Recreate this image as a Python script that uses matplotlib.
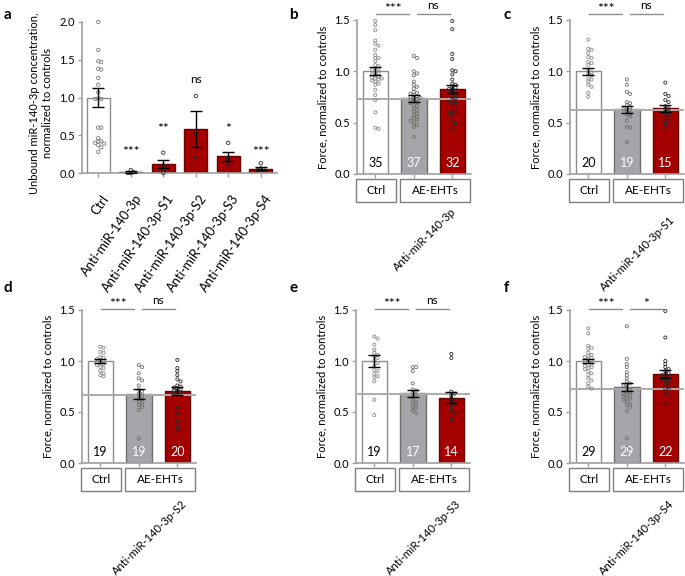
import numpy as np
import matplotlib
matplotlib.use("Agg")
import matplotlib.pyplot as plt
import matplotlib.transforms as mtransforms
from matplotlib.patches import Rectangle

plt.rcParams['font.family'] = ['Lato', 'DejaVu Sans']

W, H = 685, 576
RED = '#a50000'
GREY = '#a5a5a9'
SPINE = '#a0a0a0'
LINE = '#ababab'

# ---- panel a: unbound miR-140-3p
a_labels = ['Ctrl', 'Anti-miR-140-3p', 'Anti-miR-140-3p-S1', 'Anti-miR-140-3p-S2',
            'Anti-miR-140-3p-S3', 'Anti-miR-140-3p-S4']
a_means = [1.0, 0.015, 0.12, 0.58, 0.22, 0.055]
a_sem = [0.125, 0.01, 0.055, 0.235, 0.06, 0.02]
a_sig = ['', '***', '**', 'ns', '*', '***']
a_sig_y = [0, 0.27, 0.57, 1.24, 0.57, 0.27]
a_points = [
    [2.0, 1.63, 1.48, 1.47, 1.38, 1.37, 1.26, 1.17, 1.07, 0.99, 0.98, 0.98,
     0.60, 0.60, 0.46, 0.42, 0.42, 0.40, 0.39, 0.37, 0.34, 0.28],
    [0.04, 0.01, 0.0, 0.0],
    [0.27, 0.10, 0.08, 0.05, 0.0],
    [1.02, 0.52, 0.20],
    [0.40, 0.20, 0.15, 0.11],
    [0.13, 0.06, 0.05, 0.04],
]

# ---- force panels b-f (Ctrl, AE-EHTs, AE-EHTs + anti-miR)
b_means, b_sem, b_n, b_line = [1.0, 0.737, 0.83], [0.04, 0.033, 0.04], [35, 37, 32], 0.73
b_sig = ['***', 'ns']
b_ctrl = [1.49, 1.45, 1.40, 1.30, 1.27, 1.25, 1.21, 1.16, 1.13, 1.13, 1.10, 1.06, 1.05, 1.03,
          1.02, 1.01, 0.99, 0.98, 0.97, 0.96, 0.95, 0.94, 0.93, 0.93, 0.92, 0.91, 0.90, 0.88,
          0.87, 0.82, 0.77, 0.72, 0.60, 0.45, 0.44]
b_ae = [1.15, 1.13, 1.00, 0.98, 0.96, 0.90, 0.87, 0.85, 0.83, 0.80, 0.79, 0.78, 0.77, 0.76,
        0.75, 0.74, 0.74, 0.73, 0.72, 0.71, 0.70, 0.69, 0.67, 0.66, 0.64, 0.62, 0.61, 0.59,
        0.57, 0.56, 0.54, 0.53, 0.52, 0.50, 0.48, 0.46, 0.36]
b_anti = [1.49, 1.41, 1.17, 1.12, 1.01, 1.00, 0.97, 0.92, 0.88, 0.87, 0.85, 0.84, 0.83, 0.82,
          0.81, 0.80, 0.79, 0.77, 0.75, 0.74, 0.72, 0.71, 0.70, 0.68, 0.66, 0.61, 0.60, 0.59,
          0.57, 0.51, 0.49, 0.44]

c_means, c_sem, c_n, c_line = [1.0, 0.63, 0.64], [0.035, 0.035, 0.035], [20, 19, 15], 0.623
c_sig = ['***', 'ns']
c_ctrl = [1.31, 1.22, 1.21, 1.18, 1.14, 1.13, 1.09, 1.08, 1.06, 1.01, 0.99, 0.98, 0.96, 0.93,
          0.92, 0.90, 0.87, 0.85, 0.79, 0.75]
c_ae = [0.92, 0.87, 0.80, 0.78, 0.70, 0.69, 0.67, 0.65, 0.64, 0.63, 0.62, 0.61, 0.59, 0.58,
        0.56, 0.52, 0.46, 0.45, 0.31]
c_anti = [0.89, 0.78, 0.76, 0.72, 0.70, 0.66, 0.64, 0.63, 0.61, 0.59, 0.57, 0.54, 0.52, 0.49, 0.46]

d_means, d_sem, d_n, d_line = [1.0, 0.673, 0.706], [0.02, 0.05, 0.04], [19, 19, 20], 0.667
d_sig = ['***', 'ns']
d_ctrl = [1.14, 1.13, 1.09, 1.08, 1.04, 1.03, 1.02, 1.01, 1.00, 0.99, 0.98, 0.97, 0.96, 0.94,
          0.93, 0.90, 0.88, 0.86, 0.85]
d_ae = [0.96, 0.94, 0.88, 0.83, 0.81, 0.76, 0.72, 0.70, 0.68, 0.66, 0.63, 0.62, 0.60, 0.58,
        0.57, 0.55, 0.52, 0.24, 0.15]
d_anti = [1.01, 0.93, 0.90, 0.86, 0.82, 0.80, 0.76, 0.75, 0.74, 0.73, 0.72, 0.71, 0.70, 0.69,
          0.68, 0.54, 0.49, 0.41, 0.35, 0.32]

e_means, e_sem, e_n, e_line = [1.0, 0.683, 0.64], [0.055, 0.033, 0.053], [19, 17, 14], 0.673
e_sig = ['***', 'ns']
e_ctrl = [1.24, 1.22, 1.16, 1.11, 1.08, 1.06, 1.04, 1.03, 1.00, 0.98, 0.95, 0.91, 0.90, 0.87,
          0.85, 0.84, 0.80, 0.62, 0.47]
e_ae = [0.94, 0.94, 0.90, 0.78, 0.72, 0.71, 0.69, 0.67, 0.65, 0.62, 0.60, 0.58, 0.57, 0.55,
        0.54, 0.51, 0.49]
e_anti = [1.07, 1.03, 0.70, 0.68, 0.66, 0.63, 0.62, 0.60, 0.58, 0.57, 0.54, 0.50, 0.49, 0.43]

f_means, f_sem, f_n, f_line = [1.0, 0.748, 0.873], [0.02, 0.04, 0.04], [29, 29, 22], 0.725
f_sig = ['***', '*']
f_ctrl = [1.32, 1.27, 1.15, 1.13, 1.12, 1.08, 1.06, 1.05, 1.04, 1.03, 1.02, 1.01, 1.00, 0.99,
          0.98, 0.97, 0.96, 0.95, 0.94, 0.93, 0.92, 0.90, 0.88, 0.86, 0.83, 0.81, 0.78, 0.75, 0.73]
f_ae = [1.34, 1.02, 0.97, 0.94, 0.89, 0.86, 0.83, 0.80, 0.78, 0.77, 0.76, 0.74, 0.72, 0.70,
        0.69, 0.68, 0.67, 0.66, 0.65, 0.64, 0.63, 0.62, 0.60, 0.58, 0.57, 0.55, 0.51, 0.24, 0.15]
f_anti = [1.49, 1.23, 1.00, 0.97, 0.94, 0.92, 0.90, 0.88, 0.87, 0.86, 0.85, 0.83, 0.82, 0.80,
          0.79, 0.77, 0.75, 0.73, 0.72, 0.69, 0.67, 0.59]


def rect(l, t, r, b):
    return [l / W, 1 - b / H, (r - l) / W, (b - t) / H]


def swarm(vals, step, thresh):
    # simple beeswarm: push points sideways when values are close
    vals = np.asarray(vals, float)
    offs = np.zeros(len(vals))
    placed = []
    cands = [0]
    for k in range(1, 8):
        cands += [k * step, -k * step]
    for i in np.argsort(vals)[::-1]:
        for c in cands:
            ok = True
            for py, px in placed:
                if abs(vals[i] - py) < thresh and abs(c - px) < step * 0.95:
                    ok = False
                    break
            if ok:
                offs[i] = c
                placed.append((vals[i], c))
                break
    return offs


def style_axes(ax):
    for s in ['top', 'right']:
        ax.spines[s].set_visible(False)
    for s in ['left', 'bottom']:
        ax.spines[s].set_color(SPINE)
        ax.spines[s].set_linewidth(1.2)
    ax.tick_params(axis='both', colors=SPINE, labelcolor='black', labelsize=8,
                   length=3, width=1, pad=2)


def sig_text(ax, x, y, s, size=8.5):
    # asterisks sit high in the line box, so put their baseline lower than for "ns"
    if '*' in s:
        ax.text(x, y, s, ha='center', va='baseline', fontsize=size + 1.5, clip_on=False)
    else:
        ax.text(x, y + 0.04, s, ha='center', va='baseline', fontsize=size, clip_on=False)


fig = plt.figure(figsize=(W / 100, H / 100), dpi=100)

# ---------------- panel a
ax = fig.add_axes(rect(82, 22, 277, 173))
style_axes(ax)
x = np.arange(len(a_means))
ax.bar(x, a_means, width=0.7, color=['white'] + [RED] * 5,
       edgecolor=['#8c8c8c'] + ['#6a0000'] * 5, linewidth=1, zorder=2)
for i, pts in enumerate(a_points):
    xo = swarm(pts, 0.09, 0.035)
    ax.scatter(i + xo, pts, s=6, facecolor='none',
               edgecolor='#7a7a7a' if i == 0 else '#2a2a2a', linewidth=0.6,
               zorder=4, clip_on=False)
ax.errorbar(x, a_means, yerr=a_sem, fmt='none', ecolor='black', elinewidth=1,
            capsize=4, capthick=1, zorder=5)
for i, s in enumerate(a_sig):
    if s:
        if '*' in s:
            ax.text(i, a_sig_y[i] - 0.04, s, ha='center', va='baseline', fontsize=10)
        else:
            ax.text(i, a_sig_y[i], s, ha='center', va='center', fontsize=8.5)
ax.set_xlim(-0.5, 5.5)
ax.set_ylim(0, 2.0)
ax.set_yticks([0, 0.5, 1.0, 1.5, 2.0])
ax.set_yticklabels(['0.0', '0.5', '1.0', '1.5', '2.0'])
ax.set_xticks(x)
ax.set_xticklabels([])
trans = mtransforms.blended_transform_factory(ax.transData, ax.transAxes)
for i, lab in enumerate(a_labels):
    ax.text(i + 0.1, -0.13, lab, rotation=55, ha='right', va='top',
            rotation_mode='anchor', fontsize=9.3, transform=trans)
fig.text(41 / W, 1 - 103 / H, 'Unbound miR-140-3p concentration,\nnormalized to controls',
         rotation=90, ha='center', va='center', multialignment='center', fontsize=8,
         linespacing=1.15)


# ---------------- force panels
def force_panel(box, means, sem, ns, groups, line_y, sigs, sig_y, anti_label, anti_xy):
    ax = fig.add_axes(rect(*box))
    style_axes(ax)
    x = np.arange(3)
    ax.bar(x, means, width=0.66, color=['white', GREY, RED],
           edgecolor=['#8c8c8c', '#6e6e6e', '#6a0000'], linewidth=1, zorder=2)
    ax.axhline(line_y, color=LINE, lw=1.4, zorder=3)
    for i, pts in enumerate(groups):
        xo = swarm(pts, 0.085, 0.028)
        ax.scatter(i + xo, pts, s=5, facecolor='none',
                   edgecolor=['#8a8a8a', '#6e6e6e', '#2a2a2a'][i], linewidth=0.6,
                   zorder=4, clip_on=False)
    ax.errorbar(x, means, yerr=sem, fmt='none', ecolor='black', elinewidth=1,
                capsize=4.5, capthick=1, zorder=5)
    for i, n in enumerate(ns):
        ax.text(i, 0.05, str(n), ha='center', va='bottom', fontsize=9,
                color='black' if i == 0 else 'white', zorder=6)
    ax.set_xlim(-0.475, 2.485)
    ax.set_ylim(0, 1.5)
    ax.set_yticks([0, 0.5, 1.0, 1.5])
    ax.set_yticklabels(['0.0', '0.5', '1.0', '1.5'])
    ax.set_xticks(x)
    ax.set_xticklabels([])
    ax.set_ylabel('Force, normalized to controls', fontsize=8)
    ax.yaxis.set_label_coords(-0.25, 0.5)

    # significance brackets
    for (x0, x1), s in zip([(0.03, 0.88), (1.08, 1.93)], sigs):
        ax.plot([x0, x1], [sig_y, sig_y], color='#8c8c8c', lw=1, clip_on=False)
        sig_text(ax, (x0 + x1) / 2, sig_y + 0.01, s)

    # group boxes
    trans = mtransforms.blended_transform_factory(ax.transData, ax.transAxes)
    for (x0, x1), lab in zip([(-0.5, 0.53), (0.65, 2.45)], ['Ctrl', 'AE-EHTs']):
        ax.add_patch(Rectangle((x0, -0.034), x1 - x0, -0.148, transform=trans, fill=False,
                               ec='#7f7f7f', lw=1, clip_on=False))
        ax.text((x0 + x1) / 2, -0.108, lab, ha='center', va='center', fontsize=8.5,
                transform=trans)
    ax.text(anti_xy[0], anti_xy[1], anti_label, rotation=45, ha='right', va='top',
            rotation_mode='anchor', fontsize=8, transform=trans)
    return ax


force_panel((357, 20, 471, 174), b_means, b_sem, b_n, [b_ctrl, b_ae, b_anti], b_line,
            b_sig, 1.56, 'Anti-miR-140-3p', (1.95, -0.21))
force_panel((570, 20, 684, 174), c_means, c_sem, c_n, [c_ctrl, c_ae, c_anti], c_line,
            c_sig, 1.56, 'Anti-miR-140-3p-S1', (2.1, -0.26))
force_panel((82, 310, 196, 463), d_means, d_sem, d_n, [d_ctrl, d_ae, d_anti], d_line,
            d_sig, 1.51, 'Anti-miR-140-3p-S2', (2.1, -0.23))
force_panel((356, 310, 470, 463), e_means, e_sem, e_n, [e_ctrl, e_ae, e_anti], e_line,
            e_sig, 1.51, 'Anti-miR-140-3p-S3', (2.1, -0.23))
force_panel((570, 310, 684, 463), f_means, f_sem, f_n, [f_ctrl, f_ae, f_anti], f_line,
            f_sig, 1.51, 'Anti-miR-140-3p-S4', (2.08, -0.23))

# panel letters
for lab, (px, py) in zip('abcdef', [(4, 15), (289, 15), (504, 15), (4, 288), (289, 288), (504, 288)]):
    fig.text(px / W, 1 - py / H, lab, fontsize=11, fontweight='bold', va='center', ha='left')

fig.savefig('out.png', dpi=100)
